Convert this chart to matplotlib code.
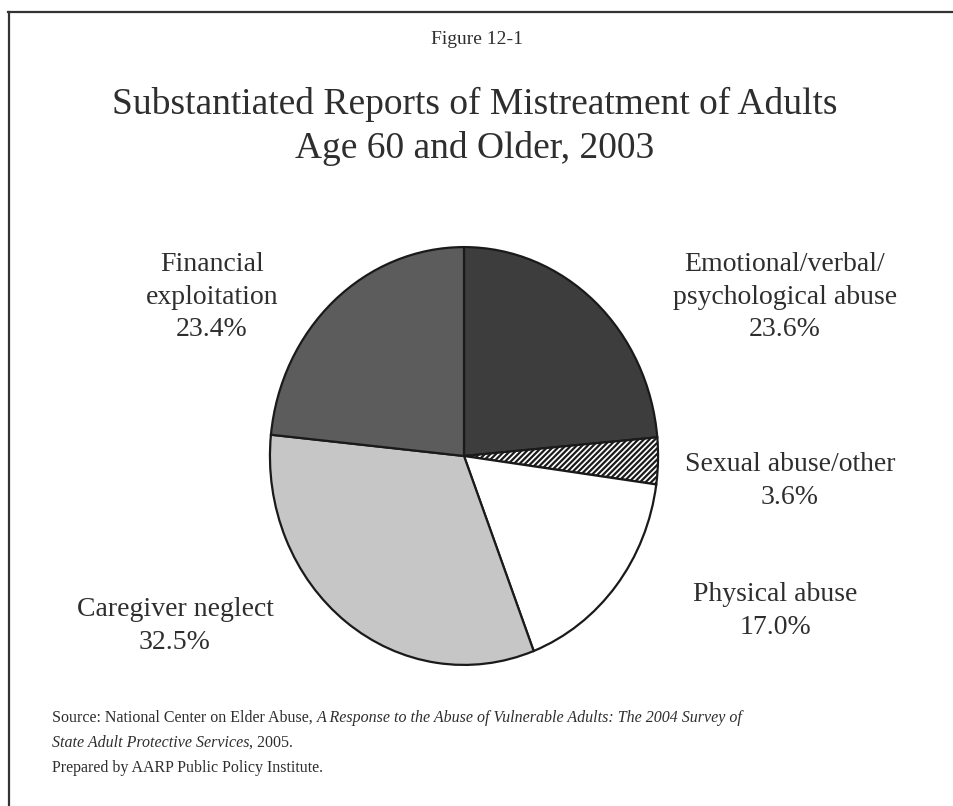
import matplotlib
matplotlib.use('Agg')
from matplotlib import pyplot as plt
from matplotlib.lines import Line2D

# slice data, clockwise from 12 o'clock
categories = ['Emotional/verbal/\npsychological abuse', 'Sexual abuse/other',
              'Physical abuse', 'Caregiver neglect', 'Financial\nexploitation']
shares = [23.6, 3.6, 17.0, 32.5, 23.4]
fills = ['#3d3d3d', '#ffffff', '#ffffff', '#c6c6c6', '#5c5c5c']
hatches = [None, '//////', None, None, None]

TEXT = '#2e2e2e'
SERIF = ['Liberation Serif', 'DejaVu Serif']
plt.rcParams['font.family'] = SERIF
plt.rcParams['hatch.linewidth'] = 1.6

W, H = 954, 806
fig = plt.figure(figsize=(W / 100, H / 100), dpi=100)
fig.patch.set_facecolor('white')

def px(x, y):
    return x / W, 1 - y / H

# frame: top and left rule
fig.add_artist(Line2D([8 / W, 1], [1 - 12 / H] * 2, color='#333333', lw=1.6))
fig.add_artist(Line2D([9 / W] * 2, [1 - 12 / H, 0], color='#333333', lw=1.6))

fig.text(*px(477, 40), 'Figure 12-1', ha='center', va='center', fontsize=14, color=TEXT)
fig.text(*px(475, 104), 'Substantiated Reports of Mistreatment of Adults',
         ha='center', va='center', fontsize=27, color=TEXT)
fig.text(*px(475, 149), 'Age 60 and Older, 2003',
         ha='center', va='center', fontsize=27, color=TEXT)

# pie, drawn in an axes box shaped like the (slightly oval) scanned pie
cx, cy, rx, ry = 464, 456, 196, 211
ax = fig.add_axes([(cx - rx) / W, (H - cy - ry) / H, 2 * rx / W, 2 * ry / H])
wedges, _ = ax.pie(shares, colors=fills, startangle=90, counterclock=False,
                   wedgeprops=dict(edgecolor='#1a1a1a', linewidth=1.6))
for w, h in zip(wedges, hatches):
    if h:
        w.set_hatch(h)
ax.set_aspect('auto')
ax.set_xlim(-1.01, 1.01)
ax.set_ylim(-1.01, 1.01)
ax.axis('off')

# slice labels
label_pos = [(785, 297), (790, 481), (775, 611), (175, 626), (212, 297)]
for name, val, (lx, ly) in zip(categories, shares, label_pos):
    fig.text(*px(lx, ly), '%s\n%.1f%%' % (name, val), ha='center', va='center',
             fontsize=20, color=TEXT, linespacing=1.4)

# source note, mixing roman and italic runs
fig.canvas.draw()
renderer = fig.canvas.get_renderer()

def run(pieces, x0, y0):
    x = x0
    for s, style in pieces:
        t = fig.text(x / W, 1 - y0 / H, s, ha='left', va='center', fontsize=11.5,
                     color=TEXT, style=style)
        bb = t.get_window_extent(renderer)
        x += bb.width

run([('Source: National Center on Elder Abuse, ', 'normal'),
     ('A Response to the Abuse of Vulnerable Adults: The 2004 Survey of', 'italic')], 52, 718)
run([('State Adult Protective Services', 'italic'), (', 2005.', 'normal')], 52, 743)
run([('Prepared by AARP Public Policy Institute.', 'normal')], 52, 768)

plt.savefig('out.png', dpi=100, facecolor='white')
